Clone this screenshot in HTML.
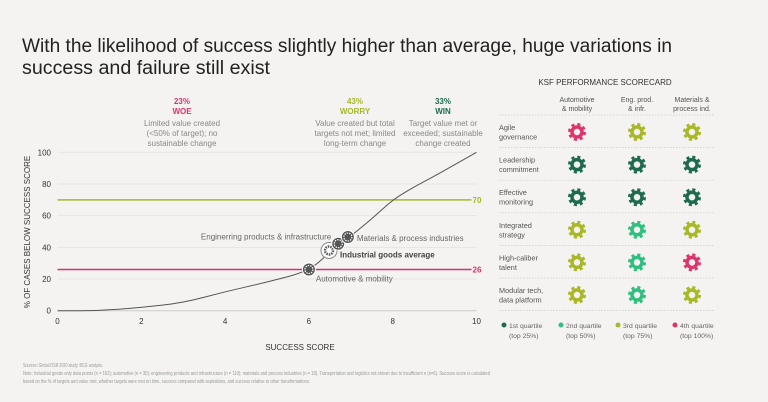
<!DOCTYPE html>
<html><head><meta charset="utf-8"><style>
body{margin:0;background:#f4f3f1;font-family:"Liberation Sans",sans-serif;}
svg{display:block}
</style></head><body>
<svg width="768" height="402" viewBox="0 0 768 402" xmlns="http://www.w3.org/2000/svg" font-family="Liberation Sans, sans-serif">
<rect width="768" height="402" fill="#f4f3f1"/>
<text x="22" y="52" font-size="19" fill="#222" textLength="650" lengthAdjust="spacingAndGlyphs">With the likelihood of success slightly higher than average, huge variations in</text>
<text x="22" y="74" font-size="19" fill="#222" textLength="248" lengthAdjust="spacingAndGlyphs">success and failure still exist</text>

<g font-size="8" text-anchor="middle">
<text x="182" y="104" fill="#d6336c" font-weight="bold">23%</text>
<text x="182" y="114" fill="#d6336c" font-weight="bold">WOE</text>
<text x="182" y="126" fill="#888">Limited value created</text>
<text x="182" y="136" fill="#888">(&lt;50% of target); no</text>
<text x="182" y="146" fill="#888">sustainable change</text>
<text x="355" y="104" fill="#a8b826" font-weight="bold">43%</text>
<text x="355" y="114" fill="#a8b826" font-weight="bold">WORRY</text>
<text x="355" y="126" fill="#888">Value created but total</text>
<text x="355" y="136" fill="#888">targets not met; limited</text>
<text x="355" y="146" fill="#888">long-term change</text>
<text x="443" y="104" fill="#1e6b4f" font-weight="bold">33%</text>
<text x="443" y="114" fill="#1e6b4f" font-weight="bold">WIN</text>
<text x="443" y="126" fill="#888">Target value met or</text>
<text x="443" y="136" fill="#888">exceeded; sustainable</text>
<text x="443" y="146" fill="#888">change created</text>
</g>
<g id="chart"></g>
<text x="30" y="232" font-size="8" fill="#333" text-anchor="middle" transform="rotate(-90 30 232)">% OF CASES BELOW SUCCESS SCORE</text>
<text x="300" y="350" font-size="8" fill="#333" text-anchor="middle">SUCCESS SCORE</text>

<text x="605" y="85" font-size="8" fill="#333" text-anchor="middle">KSF PERFORMANCE SCORECARD</text>
<g id="score"></g>

<g font-size="5.3" fill="#999">
<text x="23" y="367" textLength="80" lengthAdjust="spacingAndGlyphs">Sources: Global DSR 2020 study; BCG analysis.</text>
<text x="23" y="375" textLength="467" lengthAdjust="spacingAndGlyphs">Note: Industrial goods only data points (n = 162); automotive (n = 30); engineering products and infrastructure (n = 110); materials and process industries (n = 18). Transportation and logistics not shown due to insufficient n (n=6). Success score is calculated</text>
<text x="23" y="383" textLength="287" lengthAdjust="spacingAndGlyphs">based on the % of targets and value met, whether targets were met on time, success compared with aspirations, and success relative to other transformations.</text>
</g>
</svg>
<script>
const xTicks=[0,2,4,6,8,10];
const yTicks=[0,20,40,60,80,100];
const curveX=[0,1,2,3,4,5,6,6.5,7,7.5,8,8.5,9,10];
const curveY=[0,0,2,5,12,18,25,37,47,58,70,78,85,100];
const refValues=[70,26];
const refColors=["#a8b826","#d6336c"];
const markerNames=["Automotive & mobility","Industrial goods average","Enginerring products & infrastructure","Materials & process industries"];
const markerX=[6,6.48,6.7,6.93];
const markerY=[26,38,42.3,46.5];
const rows=["Agile|governance","Leadership|commitment","Effective|monitoring","Integrated|strategy","High-caliber|talent","Modular tech,|data platform"];
const cols=["Automotive|& mobility","Eng. prod.|& infr.","Materials &|process ind."];
const quartiles=[[4,3,3],[1,1,1],[1,1,1],[3,2,3],[3,2,4],[3,2,3]];
const qColors={1:"#1e6b4f",2:"#2fbf7f",3:"#a8b826",4:"#e0336b"};
const qLabels=["1st quartile|(top 25%)","2nd quartile|(top 50%)","3rd quartile|(top 75%)","4th quartile|(top 100%)"];
const NS="http://www.w3.org/2000/svg";
function sx(v){return 57.5+v*41.9;}
function sy(v){return 310.7-v*1.584;}
function mk(p,tag,a){const e=document.createElementNS(NS,tag);for(const k in a)e.setAttribute(k,a[k]);p.appendChild(e);return e;}
const g=document.getElementById('chart');
yTicks.forEach(t=>{
 const l=mk(g,'line',{x1:sx(0),x2:sx(10),y1:sy(t),y2:sy(t),stroke:t===0?'#ccc':'#e6e5e2','stroke-width':1});
 
 
 const tx=mk(g,'text',{x:51,y:sy(t)+3,'font-size':8,fill:'#333','text-anchor':'end'});tx.textContent=t;
 
 
});
xTicks.forEach(t=>{
 const tx=mk(g,'text',{x:sx(t),y:324,'font-size':8,fill:'#333','text-anchor':'middle'});tx.textContent=t;
 
 
});
refValues.forEach((v,i)=>{
 const l=mk(g,'line',{x1:sx(0),x2:sx(10)-5,y1:sy(v),y2:sy(v),stroke:refColors[i],'stroke-width':1.5});
 
 
 const tx=mk(g,'text',{x:sx(10)-4,y:sy(v)+3,'font-size':8,'font-weight':'bold',fill:refColors[i]});tx.textContent=v;
 
 
});
let d='';
for(let i=0;i<curveX.length;i++){const x=sx(curveX[i]),y=sy(curveY[i]);
 if(i===0)d+='M'+x+','+y;else{const px=sx(curveX[i-1]),py=sy(curveY[i-1]);d+=' Q'+px+','+py+' '+((px+x)/2)+','+((py+y)/2);}}
d+=' L'+sx(10)+','+sy(100);
const cp=mk(g,'path',{d:d,fill:'none',stroke:'#555','stroke-width':1});


// label offsets in px: dx, dy, anchor, bold
const labelPos=[[7,12,'start',false],[11,7,'start',true],[-7,-4,'end',false],[9,4,'start',false]];
markerX.forEach((v,i)=>{
 const cx=sx(v),cy=sy(markerY[i]);
 const big=i===1;
 const c=mk(g,'circle',{cx:cx,cy:cy,r:big?8:6.5,fill:big?'#fff':'#555',stroke:big?'#888':'#fff','stroke-width':1});
 
 
 mk(g,'circle',{cx:cx,cy:cy,r:4,fill:'none',stroke:big?'#555':'#fff','stroke-width':big?2.5:1.2,'stroke-dasharray':'1.5 1'});
 mk(g,'circle',{cx:cx,cy:cy,r:1.5,fill:big?'#fff':'#555'});
 const lp=labelPos[i];
 const tx=mk(g,'text',{x:cx+lp[0],y:cy+lp[1],'font-size':8,fill:lp[3]?'#444':'#666','font-weight':lp[3]?'bold':'normal','text-anchor':lp[2]});
 tx.textContent=markerNames[i];
 
 
});
const s=document.getElementById('score');
const colX=[577,637,692],rowY0=132,rowH=32.6;
cols.forEach((c,i)=>{c.split('|').forEach((p,j)=>{const t=mk(s,'text',{x:colX[i],y:102+j*9,'font-size':7,fill:'#555','text-anchor':'middle'});t.textContent=p;
 
 });});
for(let r=0;r<=rows.length;r++){
 const l=mk(s,'line',{x1:499,x2:714,y1:115+r*rowH,y2:115+r*rowH,stroke:'#ccc','stroke-width':0.7,'stroke-dasharray':'1.5 1.5'});
 
 
}
function gear(cx,cy,col){
 const grp=mk(s,'g',{});
 
 
 mk(grp,'circle',{cx:cx,cy:cy,r:7.5,fill:'none',stroke:col,'stroke-width':3,'stroke-dasharray':'3 2.9'});
 mk(grp,'circle',{cx:cx,cy:cy,r:5,fill:'none',stroke:col,'stroke-width':3.5});
}
rows.forEach((r,i)=>{
 const cy=rowY0+i*rowH;
 r.split('|').forEach((p,j)=>{const t=mk(s,'text',{x:499,y:cy-2+j*9.5,'font-size':7.3,fill:'#555'});t.textContent=p;
  
  });
 quartiles[i].forEach((q,j)=>gear(colX[j],cy,qColors[q]));
});
qLabels.forEach((q,i)=>{
 const x=501+i*57;
 const c=mk(s,'circle',{cx:x+3,cy:325,r:2.5,fill:qColors[i+1]});
 
 
 q.split('|').forEach((p,j)=>{const t=mk(s,'text',{x:x+8,y:328+j*10,'font-size':6.8,fill:'#666'});t.textContent=p;
  
  });
});
</script>
</body></html>
